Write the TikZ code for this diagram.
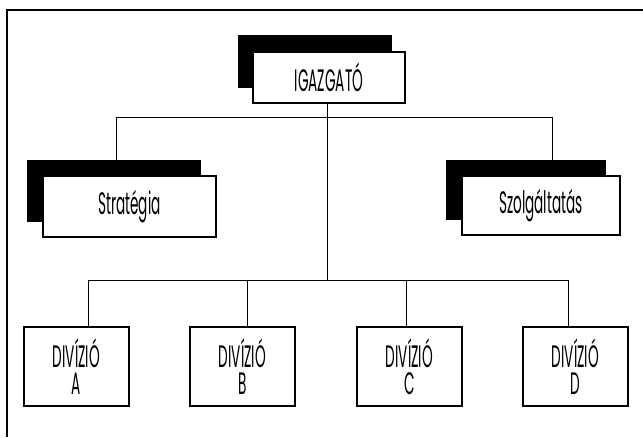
\documentclass[tikz,border=0pt]{standalone}
\usepackage{fontspec}
\setmainfont{Poppins}[FakeStretch=0.44]
\begin{document}
\begin{tikzpicture}[x=1pt,y=-1pt,
  box/.style={draw=black, line width=1.6pt, fill=white, inner sep=0pt, font=\fontsize{31}{27}\selectfont, align=center},
  shadow/.style={fill=black, draw=none, inner sep=0pt},
  conn/.style={draw=black, line width=0.7pt},
  frame/.style={draw=black, line width=2.2pt}]
\useasboundingbox (0,0) rectangle (643,437);
\draw[frame] (7,437) -- (7,10) -- (643,10);
% shadows
\node[shadow, minimum width=154pt, minimum height=53pt] (igS) at (315,61.5) {};
\node[shadow, minimum width=174pt, minimum height=62pt] (stS) at (114,191) {};
\node[shadow, minimum width=160pt, minimum height=60pt] (szS) at (526,190) {};
% boxes
\node[box, minimum width=152pt, minimum height=51pt] (ig) at (329,77.5) {IGAZGATÓ};
\node[box, minimum width=173pt, minimum height=61pt] (st) at (129.5,206.5) {Stratégia};
\node[box, minimum width=158pt, minimum height=59pt] (sz) at (541,205.5) {Szolgáltatás};
\node[box, minimum width=105pt, minimum height=79pt] (dA) at (76.5,366.5) {DIVÍZIÓ\\A};
\node[box, minimum width=105pt, minimum height=79pt] (dB) at (242.5,366.5) {DIVÍZIÓ\\B};
\node[box, minimum width=105pt, minimum height=79pt] (dC) at (409.5,366.5) {DIVÍZIÓ\\C};
\node[box, minimum width=105pt, minimum height=79pt] (dD) at (575.5,366.5) {DIVÍZIÓ\\D};
% connector coordinates
\coordinate (tL) at (116,117);
\coordinate (tR) at (552,117);
\coordinate (bar) at (327,280);
\coordinate (bA) at (88,280);
\coordinate (bB) at (247,280);
\coordinate (bC) at (406,280);
\coordinate (bD) at (568,280);
% connectors
\draw[conn] (ig.south -| bar) -- (bar);
\draw[conn] (tL |- stS.north) -- (tL) -- (tR) -- (tR |- szS.north);
\draw[conn] (bA) -- (bD);
\draw[conn] (bA) -- (bA |- dA.north);
\draw[conn] (bB) -- (bB |- dB.north);
\draw[conn] (bC) -- (bC |- dC.north);
\draw[conn] (bD) -- (bD |- dD.north);
\end{tikzpicture}
\end{document}
